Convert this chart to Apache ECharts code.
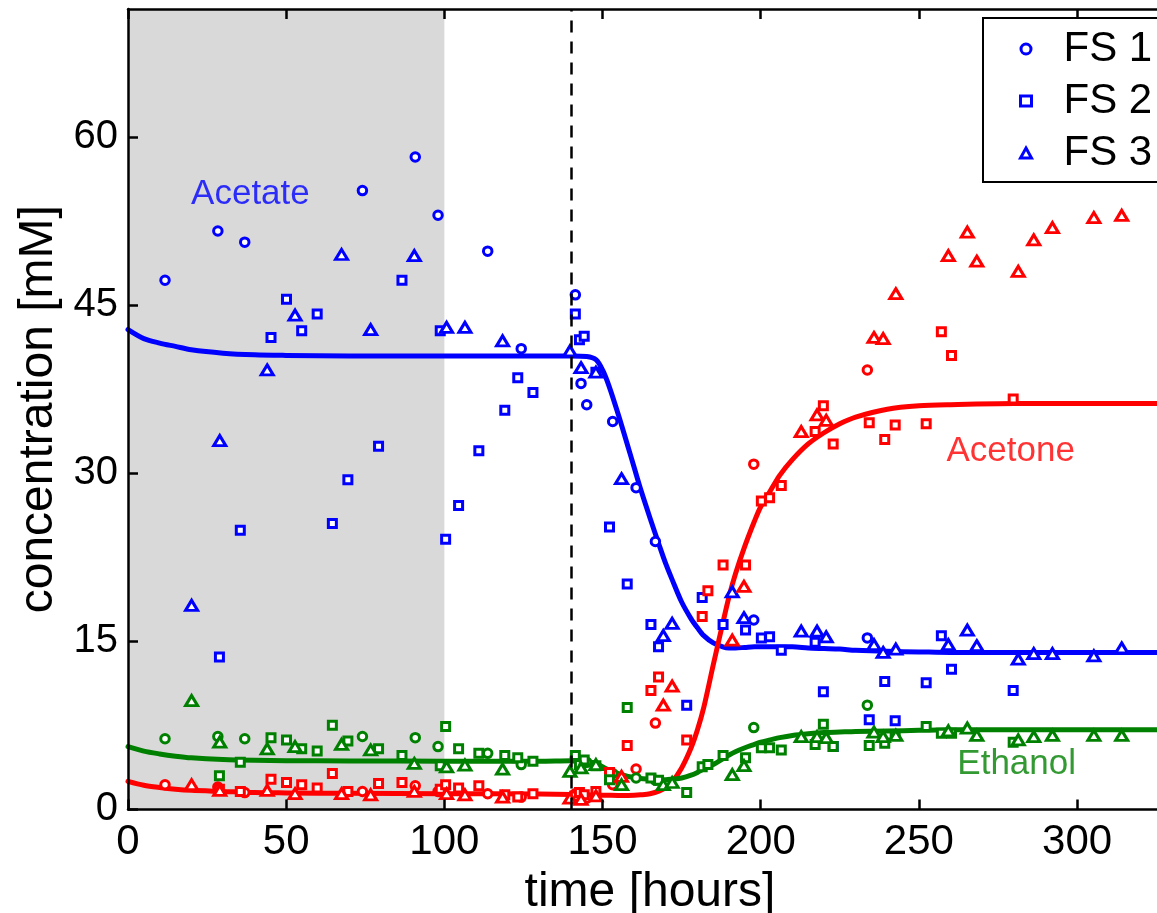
<!DOCTYPE html>
<html>
<head>
<meta charset="utf-8">
<script src="https://cdn.jsdelivr.net/npm/echarts@6/dist/echarts.min.js"></script>
<style>
  html, body { margin: 0; padding: 0; background: #fff; }
  #chart { width: 1157px; height: 913px; }
</style>
</head>
<body>
<div id="chart"></div>
<script>
// Fermentation runs FS 1-3: measured concentrations [mM] against time [hours]
const fs1Time    = [11.7, 28.4, 36.9, 74.1, 90.8, 98.0, 113.7, 124.3, 141.4, 143.2, 145.0, 153.2, 160.6, 166.7, 197.8, 233.7];
const fs1Acetate = [47.2, 51.6, 50.6, 55.2, 58.2, 53.0, 49.8, 41.1, 45.9, 38.0, 36.1, 34.6, 28.7, 23.9, 16.9, 15.3];
const fs1Acetone = [2.2, 2.0, 1.5, 1.6, 2.1, 1.6, 1.4, 1.1, 1.4, 1.1, 1.0, 2.2, 3.6, 7.7, 30.8, 39.2];
const fs1Ethanol = [6.3, 6.5, 6.3, 6.5, 6.4, 5.6, 5.0, 4.0, 4.6, 3.9, 4.2, 3.2, 2.8, 2.6, 7.3, 9.3];

const fs2Time    = [28.9, 35.5, 45.2, 50.1, 54.9, 59.8, 64.6, 69.5, 79.2, 86.6, 98.7, 100.4, 104.5, 110.9, 119.1, 123.2, 128.0,
                    141.4, 142.7, 144.2, 147.9, 152.2, 157.8, 165.3, 167.7, 176.6, 181.5, 183.3, 188.1, 195.2, 200.2, 202.8,
                    206.5, 217.2, 219.8, 222.9, 234.3, 239.2, 242.5, 252.3, 257.1, 260.3, 279.8];
const fs2Acetate = [13.6, 24.9, 42.1, 45.5, 42.7, 44.2, 25.5, 29.4, 32.4, 47.2, 42.7, 24.1, 27.1, 32.0, 35.6, 38.5, 37.2,
                    44.2, 41.9, 42.2, 39.0, 25.2, 20.1, 16.5, 14.5, 9.3, 18.9, null, 16.5, 16.0, 15.3, 15.4,
                    14.2, 14.9, 10.5, 5.6, 8.0, 11.4, 7.9, 11.3, 15.5, 12.5, 10.6];
const fs2Acetone = [1.8, 1.6, 2.7, 2.4, 2.2, 1.9, 3.2, 1.6, 2.3, 2.4, 1.8, 2.2, 1.9, 2.1, 1.3, 1.1, 1.4,
                    1.2, 1.5, 1.3, 1.6, 3.3, 5.7, 10.6, 11.8, 6.2, 17.2, 19.5, 21.8, 21.8, 27.5, 27.8,
                    28.9, 33.7, 36.0, 32.6, 34.5, 33.0, 34.3, 34.4, 42.6, 40.5, 36.6];
const fs2Ethanol = [3.0, 4.2, 6.4, 6.2, 5.4, 5.2, 7.5, 6.1, 5.4, 4.8, 3.9, 7.4, 5.4, 5.0, 4.8, 4.6, 4.3,
                    4.8, 4.0, 4.4, 3.9, 2.65, 9.1, 2.8, 2.6, 1.5, 3.8, 4.0, 4.8, 4.6, 5.5, 5.5,
                    5.3, 5.8, 7.6, 5.6, 5.7, 5.9, 6.6, 7.4, 6.8, 6.8, 6.0];

const fs3Time    = [20.1, 29.0, 44.0, 52.8, 67.5, 76.7, 90.5, 100.7, 106.5, 118.4, 139.7, 143.2, 147.9, 156.0, 169.2, 172.0,
                    191.0, 194.7, 212.8, 217.8, 220.7, 235.8, 238.7, 242.7, 259.3, 265.3, 268.3, 281.4, 286.3, 292.2, 305.3, 314.1];
const fs3Acetate = [18.2, 32.9, 39.2, 44.1, 49.5, 42.8, 49.4, 43.0, 43.0, 41.8, 40.9, 39.4, 39.0, 29.5, 15.5, 16.6,
                    19.4, 17.1, 15.9, 15.9, 15.4, 14.7, 14.0, 14.3, 14.7, 16.0, 14.6, 13.4, 13.9, 13.9, 13.7, 14.4];
const fs3Acetone = [2.2, 1.7, 1.7, 1.4, 1.4, 1.3, 1.6, 1.4, 1.3, 1.1, 1.0, 0.9, 1.2, 2.95, 9.3, 11.0,
                    15.1, 19.9, 33.7, 35.2, 34.7, 42.1, 42.0, 46.0, 49.4, 51.5, 48.9, 48.0, 50.8, 51.9, 52.8, 53.0];
const fs3Ethanol = [9.7, 6.0, 5.4, 5.6, 5.8, 5.3, 4.1, 3.8, 3.95, 3.6, 3.4, 3.7, 4.0, 2.2, 2.2, 2.4,
                    3.1, 3.9, 6.5, 6.5, 6.4, 6.9, 6.5, 6.6, 7.0, 7.25, 6.6, 6.2, 6.5, 6.6, 6.6, 6.6];

// Model fits
const fitTime    = [0, 5, 10, 15, 20, 30, 40, 50, 70, 100, 130, 140, 145, 148, 150, 152, 155, 158, 160, 162, 165, 168, 170, 172,
                    175, 178, 180, 182, 185, 188, 190, 192, 195, 198, 200, 203, 206, 210, 215, 220, 225, 230, 240, 250, 260, 280, 300, 330];
const fitAcetate = [42.8, 42.0, 41.6, 41.3, 41.0, 40.7, 40.55, 40.5, 40.45, 40.45, 40.45, 40.45, 40.4, 40.1, 39.2, 37.8, 35.2, 32.4, 30.5, 28.6, 26.0, 23.5, 21.9, 20.5,
                    18.5, 17.0, 16.2, 15.5, 14.85, 14.5, 14.4, 14.4, 14.45, 14.5, 14.5, 14.5, 14.5, 14.5, 14.4, 14.35, 14.3, 14.2, 14.1, 14.05, 14.0, 14.0, 14.0, 14.0];
const fitAcetone = [2.5, 2.15, 1.95, 1.8, 1.7, 1.6, 1.5, 1.47, 1.43, 1.4, 1.37, 1.33, 1.3, 1.28, 1.27, 1.26, 1.25, 1.25, 1.26, 1.3, 1.4, 1.65, 1.95, 2.45,
                    3.7, 5.5, 7.1, 9.1, 12.9, 16.6, 19.0, 21.0, 23.5, 25.7, 27.0, 28.4, 29.8, 31.2, 32.6, 33.6, 34.4, 35.0, 35.7, 36.0, 36.1, 36.2, 36.2, 36.2];
const fitEthanol = [5.6, 5.2, 4.95, 4.75, 4.6, 4.45, 4.38, 4.35, 4.32, 4.3, 4.3, 4.35, 4.25, 4.1, 3.8, 3.5, 3.2, 2.95, 2.85, 2.75, 2.7, 2.65, 2.65, 2.7,
                    2.8, 3.05, 3.3, 3.6, 4.0, 4.5, 4.85, 5.15, 5.5, 5.8, 6.0, 6.2, 6.4, 6.6, 6.75, 6.85, 6.9, 6.95, 7.0, 7.05, 7.1, 7.1, 7.1, 7.1];

// Phases: shaded start-up period and the switch time
const shadedPeriod = [0, 100];
const switchTime = 140;

// Species labels placed in data coordinates
const speciesNames  = ['Acetate', 'Acetone', 'Ethanol'];
const speciesLabelT = [38.7, 279.0, 280.9];
const speciesLabelC = [54.9, 31.9, 4.0];

const FONT = '"Liberation Sans", Arial, Helvetica, sans-serif';
const COLORS = { Acetate: '#0000ff', Acetone: '#ff0000', Ethanol: '#008000' };

function pairs(t, v) {
  const out = [];
  for (let i = 0; i < t.length; i++) if (v[i] != null) out.push([t[i], v[i]]);
  return out;
}

const runs = [
  { name: 'FS 1', symbol: 'circle',   size: 8.5,      time: fs1Time, Acetate: fs1Acetate, Acetone: fs1Acetone, Ethanol: fs1Ethanol },
  { name: 'FS 2', symbol: 'rect',     size: 8,        time: fs2Time, Acetate: fs2Acetate, Acetone: fs2Acetone, Ethanol: fs2Ethanol },
  { name: 'FS 3', symbol: 'triangle', size: [12, 10], time: fs3Time, Acetate: fs3Acetate, Acetone: fs3Acetone, Ethanol: fs3Ethanol }
];
const fits = { Acetate: fitAcetate, Acetone: fitAcetone, Ethanol: fitEthanol };

const series = [];

// background phase shading
series.push({
  type: 'line', name: 'shade', data: [], z: 0, silent: true, showSymbol: false,
  markArea: {
    silent: true,
    itemStyle: { color: '#d9d9d9' },
    data: [[{ xAxis: shadedPeriod[0] }, { xAxis: shadedPeriod[1] }]]
  }
});

// dashed switch line
series.push({
  type: 'line', name: 'switch', data: [], z: 1, silent: true, showSymbol: false,
  markLine: {
    silent: true, symbol: ['none', 'none'], animation: false,
    label: { show: false },
    lineStyle: { color: '#000', width: 2.5, type: [12, 9] },
    data: [{ xAxis: switchTime }]
  }
});

// fitted curves
['Acetate', 'Acetone', 'Ethanol'].forEach(function (sp) {
  series.push({
    type: 'line', name: sp + ' fit', data: pairs(fitTime, fits[sp]),
    smooth: 0.3, showSymbol: false, z: 2, silent: true,
    lineStyle: { color: COLORS[sp], width: 5, cap: 'round', join: 'round' }
  });
});

// measured points
runs.forEach(function (run) {
  ['Acetate', 'Acetone', 'Ethanol'].forEach(function (sp) {
    series.push({
      type: 'scatter',
      name: sp === 'Acetate' ? run.name : run.name + ' ' + sp,
      data: pairs(run.time, run[sp]),
      symbol: run.symbol, symbolSize: run.size, z: 3,
      itemStyle: { color: '#fff', borderColor: COLORS[sp], borderWidth: 3, opacity: 1 }
    });
  });
});

// species labels
series.push({
  type: 'scatter', name: 'labels', z: 4, silent: true,
  symbolSize: 0.1, itemStyle: { color: 'rgba(0,0,0,0)' },
  data: speciesNames.map(function (n, i) {
    return {
      name: n, value: [speciesLabelT[i], speciesLabelC[i]],
      label: { color: COLORS[n] }
    };
  }),
  label: {
    show: true, position: 'inside', formatter: '{b}',
    fontFamily: FONT, fontSize: 35
  }
});

const axisCommon = {
  type: 'value', z: 10,
  axisLine: { show: true, onZero: false, lineStyle: { color: '#000', width: 2.5 } },
  axisTick: { show: true, inside: true, length: 10, lineStyle: { color: '#000', width: 2.5 } },
  splitLine: { show: false },
  minorTick: { show: false }
};

const chart = echarts.init(document.getElementById('chart'), null, { renderer: 'canvas' });
chart.setOption({
  animation: false,
  backgroundColor: '#fff',
  grid: { left: 128, top: 9, width: 1044, height: 800.4, outerBoundsMode: 'none', containLabel: false },
  legend: {
    orient: 'vertical', left: 983, top: 18,
    itemWidth: 11, itemHeight: 10, itemGap: 8,
    padding: [9, 60, 7, 36],
    borderColor: '#000', borderWidth: 2, backgroundColor: '#fff',
    selectedMode: false,
    itemStyle: { color: '#fff', borderColor: '#0000ff', borderWidth: 3 },
    textStyle: { fontFamily: FONT, fontSize: 42, color: '#000', lineHeight: 44, padding: [0, 0, 0, 27] },
    data: ['FS 1', 'FS 2', 'FS 3']
  },
  xAxis: [
    Object.assign({}, axisCommon, {
      position: 'bottom', min: 0, max: 330, interval: 50,
      name: 'time [hours]', nameLocation: 'middle', nameGap: 47,
      nameTextStyle: { fontFamily: FONT, fontSize: 48, color: '#000' },
      axisLabel: { show: true, margin: 12, showMaxLabel: false, fontFamily: FONT, fontSize: 42, color: '#000' }
    }),
    Object.assign({}, axisCommon, {
      position: 'top', min: 0, max: 330, interval: 50,
      axisLabel: { show: false }
    })
  ],
  yAxis: [
    Object.assign({}, axisCommon, {
      position: 'left', min: 0, max: 71.4, interval: 15,
      name: 'concentration [mM]', nameLocation: 'middle', nameGap: 64,
      nameTextStyle: { fontFamily: FONT, fontSize: 48, color: '#000' },
      axisLabel: { show: true, margin: 10, showMaxLabel: false, fontFamily: FONT, fontSize: 40, color: '#000' }
    })
  ],
  series: series
});
</script>
</body>
</html>
